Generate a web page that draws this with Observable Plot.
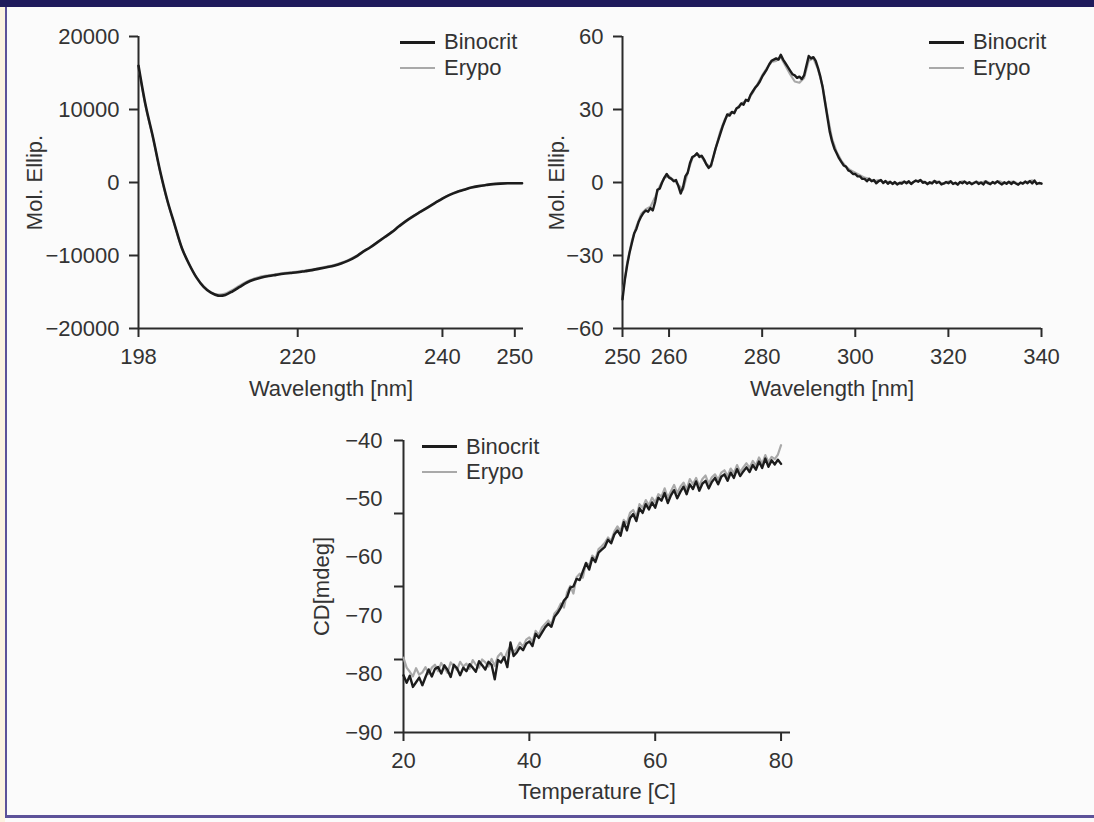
<!DOCTYPE html>
<html><head><meta charset="utf-8">
<script src="https://cdn.jsdelivr.net/npm/d3@7"></script>
<script src="https://cdn.jsdelivr.net/npm/@observablehq/plot@0.6"></script>
<style>
html,body{margin:0;padding:0;background:#fbfbfb;}
#page{position:relative;width:1094px;height:822px;overflow:hidden;background:#fbfbfb;font-family:"Liberation Sans",Arial,sans-serif;}
.blk{position:absolute;}
.panel{position:absolute;}
.legend{position:absolute;font-size:22px;color:#333;}
.legend .row{display:flex;align-items:center;white-space:nowrap;}
.legend .sw{display:inline-block;width:35px;margin-right:9px;}
</style></head><body>
<div id="page">
  <div class="blk" style="left:0;top:0;width:5px;height:822px;background:#fcf3e1"></div>
  <div class="blk" style="left:0;top:0;width:1094px;height:7px;background:#1f1b5c"></div>
  <div class="blk" style="left:5px;top:7px;width:2px;height:811px;background:#5d5299"></div>
  <div class="blk" style="left:5px;top:815px;width:1089px;height:3px;background:#5d5299"></div>
  <div class="panel" id="p1" style="left:0;top:0;width:560px"></div>
  <div class="panel" id="p2" style="left:540px;top:0;width:554px"></div>
  <div class="panel" id="p3" style="left:300px;top:420px;width:520px"></div>
  <div class="legend" id="lg1" style="left:400px;top:29px"></div>
  <div class="legend" id="lg2" style="left:929px;top:29px"></div>
  <div class="legend" id="lg3" style="left:422px;top:434px"></div>
</div>
<script>
// ---------- Data ----------
const seriesNames = ["Binocrit", "Erypo"];
const seriesColors = ["#1c1c1c", "#a9a9a9"];

// Panel 1: far-UV CD (198-251 nm, 1 nm)
const wl1 = d3.range(198, 252, 1);
const bino1 = [16000,10500,6200,1500,-2500,-5800,-9000,-11200,-13000,-14300,
  -15100,-15500,-15400,-14900,-14300,-13700,-13300,-13000,-12800,-12650,
  -12500,-12400,-12300,-12150,-12000,-11800,-11600,-11400,-11100,-10700,
  -10200,-9500,-8900,-8200,-7500,-6800,-6000,-5250,-4600,-4000,
  -3400,-2800,-2200,-1700,-1300,-1000,-700,-500,-350,-220,
  -150,-110,-100,-100];
const ery1 = [15800,10300,6100,1400,-2600,-5900,-9000,-11150,-12950,-14200,
  -15000,-15350,-15200,-14700,-14100,-13550,-13150,-12850,-12700,-12550,
  -12400,-12300,-12200,-12050,-11900,-11700,-11500,-11300,-11000,-10600,
  -10100,-9450,-8850,-8150,-7450,-6750,-5950,-5200,-4550,-3950,
  -3350,-2750,-2150,-1650,-1250,-950,-680,-480,-330,-210,
  -140,-100,-90,-90];
const x1Ticks = [198, 220, 240, 250];
const y1Ticks = [20000, 10000, 0, -10000, -20000];

// Panel 2: near-UV CD (250-340 nm)
const wl2b = d3.range(250, 340.25, 0.5);
const bino2 = [
  -48,-40,-34,-29,-25,-21,-19,-16,-14,-12.5,
  -11.5,-12,-10.5,-11.5,-8,-3,-2.5,0,2,3.5,
  2,1.5,0.5,1,-1.5,-4.5,-2,2.5,4,8,
  10.5,11,12,10.5,11,9.5,7.5,6,7,10.5,
  14,17,20,23,25.5,28,27.5,29,28.5,30.5,
  31,32.5,32,34,33.5,36,37.5,39,40,41.5,
  43.5,45,46.5,48.5,50,50.5,51,50.5,52.5,50.5,
  49,47.5,46,44.5,44,43,43.5,42.5,44,48,
  52,51,51.5,50,47,43.5,39,33,27,21,
  17,14,12,10,8.5,7,6.5,5,4.5,3.5,
  3.5,2.5,2.5,1.5,1.5,0.5,1.5,0.5,1,-0.3,
  0.5,1,-0.2,0.6,-0.5,0.3,-0.6,0.2,-0.8,-0.2,
  -0.5,0.4,-0.3,0.5,-0.6,0.2,0.8,0.3,1,-0.1,
  0.2,-0.7,0.1,-0.4,0.6,-0.2,0.3,-0.8,-0.4,0.2,
  -0.3,0.5,-0.6,-0.1,-0.9,0.2,-0.3,0.4,-0.5,0.1,
  -0.7,-0.2,0.3,-0.6,0,-0.8,0.4,-0.3,-0.7,0.2,
  -0.4,0.5,-0.2,-0.8,0.1,-0.5,0.3,-0.6,0.2,-0.4,
  -0.9,0,-0.5,0.4,-0.3,0.6,-0.4,0.8,-0.6,-0.2,
  -0.5];
const wl2e = d3.range(250, 341, 1);
const ery2 = [
  -46,-33,-24,-18,-13,-11,-10,-6,-1.5,2,
  2.5,1,-1,-3,4,10,12,10.5,7.5,6.5,
  14,21,26,28.5,29,31.5,33,34,37,40.5,
  44,47,49.5,50,51.5,48,44.5,41.5,41,43,
  50,51,46.5,39.5,28,18,12.5,9,6.5,5,
  4,3,2,1.5,0.5,1,0.2,0.3,-0.2,-0.5,
  0.3,0.2,-0.3,0.6,0.9,0,-0.4,0.7,0.1,-0.6,
  0.4,-0.2,-0.5,0.5,0,-0.4,0.4,-0.2,0.6,-0.3,
  0,0.5,-0.4,0.2,0.4,-0.6,-0.1,0.3,0.9,-0.3,
  -0.2];
const x2Ticks = [250, 260, 280, 300, 320, 340];
const y2Ticks = [60, 30, 0, -30, -60];

// Panel 3: thermal melt (20-80 C, 0.5 C)
const temp3 = d3.range(20, 80.25, 0.5);
const bino3 = [
  -80.2,-81.5,-80.3,-82.2,-81.4,-80.6,-81.9,-80.5,-79.2,-80.4,
  -79.1,-78.8,-79.9,-78.5,-79.3,-80.5,-78.4,-79.0,-80.2,-78.9,
  -79.5,-78.3,-78.9,-79.6,-77.8,-78.5,-79.2,-77.9,-78.4,-80.9,
  -77.6,-78.0,-77.1,-78.8,-74.6,-76.9,-76.3,-75.4,-75.9,-74.8,
  -74.4,-75.2,-73.1,-73.8,-72.9,-72.0,-71.4,-71.9,-70.2,-69.5,
  -68.6,-67.4,-66.8,-65.2,-65.0,-63.7,-63.9,-62.4,-61.0,-62.1,
  -60.1,-60.8,-59.2,-58.7,-58.2,-57.0,-57.6,-56.1,-55.4,-56.3,
  -54.0,-55.4,-53.3,-52.6,-53.8,-51.6,-52.4,-50.9,-51.8,-50.6,
  -51.5,-49.8,-50.3,-49.0,-50.7,-49.4,-48.5,-49.9,-48.8,-47.9,
  -49.2,-47.5,-48.3,-47.0,-48.6,-47.4,-46.9,-48.2,-47.1,-46.4,
  -47.5,-46.2,-45.8,-46.9,-45.5,-46.4,-44.9,-46.1,-45.3,-44.6,
  -45.4,-44.2,-45.0,-43.6,-44.7,-43.1,-44.5,-43.4,-44.1,-43.3,
  -44.0];
const ery3 = [
  -77.2,-78.9,-79.6,-80.4,-79.0,-80.1,-79.7,-78.8,-80.0,-78.9,
  -78.4,-79.5,-78.1,-78.9,-79.8,-78.0,-78.6,-79.3,-77.9,-78.7,
  -78.2,-79.1,-77.6,-78.4,-78.9,-77.5,-78.0,-78.7,-77.4,-78.6,
  -77.0,-76.4,-77.5,-76.1,-75.2,-76.3,-75.6,-74.6,-75.3,-74.1,
  -73.7,-74.5,-72.6,-73.3,-72.0,-71.4,-70.8,-71.5,-69.6,-69.0,
  -67.9,-68.6,-66.0,-64.9,-66.2,-63.4,-62.8,-63.5,-60.9,-61.4,
  -59.7,-60.3,-58.6,-58.1,-57.5,-56.6,-57.2,-55.6,-54.7,-55.5,
  -53.6,-54.2,-52.4,-51.9,-53.1,-50.9,-51.5,-50.2,-51.1,-49.8,
  -50.6,-49.2,-49.6,-48.2,-49.8,-48.7,-47.6,-49.0,-47.9,-47.2,
  -48.4,-46.6,-47.5,-46.4,-47.8,-46.6,-46.0,-47.4,-46.3,-45.8,
  -46.7,-45.5,-45.1,-46.1,-44.8,-45.6,-44.2,-45.4,-44.6,-43.9,
  -44.7,-43.5,-44.3,-42.9,-44.0,-42.5,-43.7,-42.8,-43.2,-42.4,
  -40.8];
const x3Ticks = [20, 40, 60, 80];
const y3Labels = [-40, -50, -60, -70, -80, -90];
const y3TickMarks = [-40, -52.5, -65, -77.5, -90];

// ---------- Helpers ----------
const fmt = d => (d < 0 ? "\u2212" : "") + Math.abs(d);
const AX = "#2b2b2b";
const baseStyle = {fontFamily: "'Liberation Sans', Arial, sans-serif", fontSize: "22px", color: "#333", background: "transparent", overflow: "visible"};
const zip = (xs, ys) => xs.map((x, i) => ({x, y: ys[i]}));

// ---------- Panel 1 ----------
const p1 = Plot.plot({
  width: 560, height: 410,
  marginLeft: 138, marginRight: 37, marginTop: 36, marginBottom: 82,
  style: baseStyle,
  x: {domain: [198, 251.2]},
  y: {domain: [-20000, 20000]},
  marks: [
    Plot.axisX({ticks: x1Ticks, tickFormat: fmt, tickSize: 9, tickPadding: 11, strokeWidth: 2, stroke: AX,
      label: "Wavelength [nm]", labelAnchor: "center", labelOffset: 67, labelArrow: "none"}),
    Plot.axisY({ticks: y1Ticks, tickFormat: fmt, tickSize: 9, tickPadding: 10, strokeWidth: 2, stroke: AX,
      label: "Mol. Ellip.", labelAnchor: "center", labelOffset: 112, labelArrow: "none"}),
    Plot.ruleX([198], {stroke: AX, strokeWidth: 2}),
    Plot.ruleY([-20000], {stroke: AX, strokeWidth: 2}),
    Plot.line(zip(wl1, ery1), {x: "x", y: "y", stroke: seriesColors[1], strokeWidth: 2, curve: "catmull-rom"}),
    Plot.line(zip(wl1, bino1), {x: "x", y: "y", stroke: seriesColors[0], strokeWidth: 2.6, curve: "catmull-rom"})
  ]
});
document.getElementById("p1").append(p1);

// ---------- Panel 2 ----------
const p2 = Plot.plot({
  width: 554, height: 410,
  marginLeft: 82, marginRight: 53, marginTop: 36, marginBottom: 82,
  style: baseStyle,
  x: {domain: [250, 340]},
  y: {domain: [-60, 60]},
  marks: [
    Plot.axisX({ticks: x2Ticks, tickFormat: fmt, tickSize: 9, tickPadding: 11, strokeWidth: 2, stroke: AX,
      label: "Wavelength [nm]", labelAnchor: "center", labelOffset: 67, labelArrow: "none"}),
    Plot.axisY({ticks: y2Ticks, tickFormat: fmt, tickSize: 9, tickPadding: 10, strokeWidth: 2, stroke: AX,
      label: "Mol. Ellip.", labelAnchor: "center", labelOffset: 74, labelArrow: "none"}),
    Plot.ruleX([250], {stroke: AX, strokeWidth: 2}),
    Plot.ruleY([-60], {stroke: AX, strokeWidth: 2}),
    Plot.line(zip(wl2e, ery2), {x: "x", y: "y", stroke: seriesColors[1], strokeWidth: 2.2}),
    Plot.line(zip(wl2b, bino2), {x: "x", y: "y", stroke: seriesColors[0], strokeWidth: 2.4})
  ]
});
document.getElementById("p2").append(p2);

// ---------- Panel 3 ----------
const p3 = Plot.plot({
  width: 520, height: 390,
  marginLeft: 103, marginRight: 30, marginTop: 20, marginBottom: 78,
  style: baseStyle,
  x: {domain: [20, 81.5]},
  y: {domain: [-90, -40]},
  marks: [
    Plot.axisX({ticks: x3Ticks, tickFormat: fmt, tickSize: 9, tickPadding: 11, strokeWidth: 2, stroke: AX,
      label: "Temperature [C]", labelAnchor: "center", labelOffset: 66, labelArrow: "none"}),
    Plot.axisY({ticks: y3TickMarks, tickFormat: () => "", tickSize: 9, strokeWidth: 2, stroke: AX, label: null}),
    Plot.axisY({ticks: y3Labels, tickFormat: fmt, tickSize: 0, tickPadding: 21,
      label: "CD[mdeg]", labelAnchor: "center", labelOffset: 90, labelArrow: "none"}),
    Plot.ruleX([20], {stroke: AX, strokeWidth: 2}),
    Plot.ruleY([-90], {stroke: AX, strokeWidth: 2}),
    Plot.line(zip(temp3, ery3), {x: "x", y: "y", stroke: seriesColors[1], strokeWidth: 2.2}),
    Plot.line(zip(temp3, bino3), {x: "x", y: "y", stroke: seriesColors[0], strokeWidth: 2.4})
  ]
});
document.getElementById("p3").append(p3);

// ---------- Legends ----------
function legend(id, rowH) {
  const el = document.getElementById(id);
  seriesNames.forEach((name, i) => {
    const row = document.createElement("div");
    row.className = "row";
    row.style.height = rowH + "px";
    const sw = document.createElement("span");
    sw.className = "sw";
    sw.style.height = (i === 0 ? 3 : 2) + "px";
    sw.style.background = seriesColors[i];
    const t = document.createElement("span");
    t.textContent = name;
    row.append(sw, t);
    el.append(row);
  });
}
legend("lg1", 26);
legend("lg2", 26);
legend("lg3", 25);
</script>
</body></html>
